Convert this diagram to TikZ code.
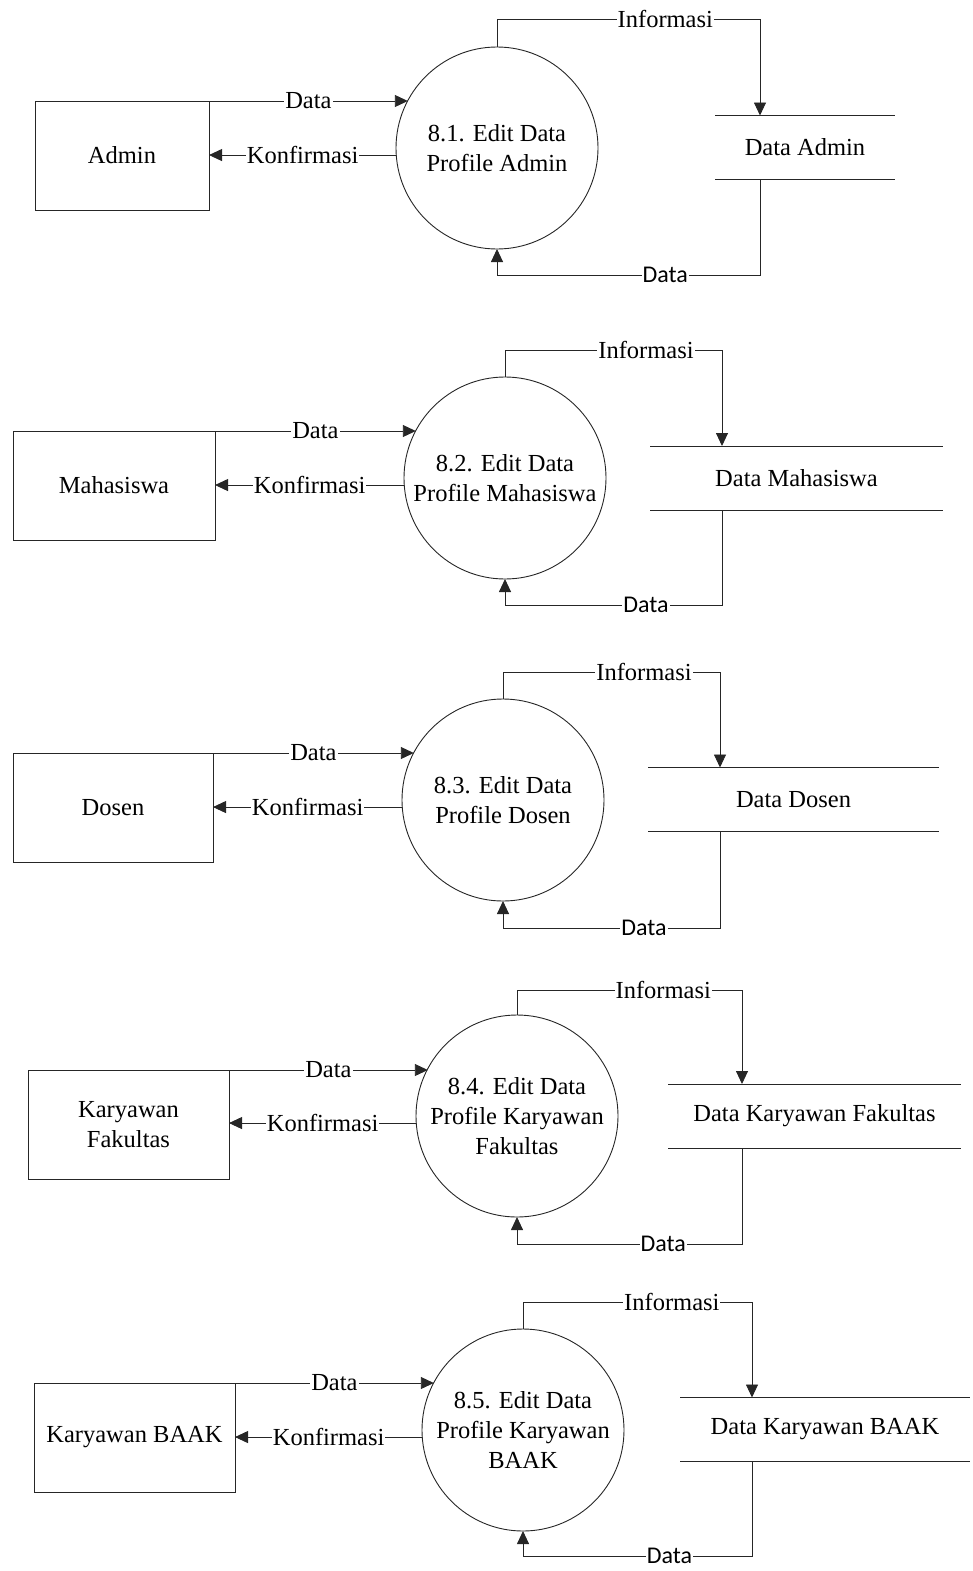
\documentclass[tikz,border=0pt]{standalone}
\usepackage{fontspec}
\setmainfont{Liberation Serif}
\newfontfamily\calibrifont{Carlito}
\usetikzlibrary{arrows.meta}
\begin{document}
\begin{tikzpicture}[x=1pt,y=-1pt,
  font=\fontsize{24.5}{30}\selectfont,
  line width=0.9pt, color=black!85, text=black,
  ent/.style={draw, rectangle, align=center, inner sep=0pt, outer sep=0pt, minimum height=109},
  proc/.style={draw, circle, align=center, inner sep=0pt, outer sep=0pt, minimum size=202},
  store/.style={draw=none, align=center, inner sep=0pt, outer sep=0pt, minimum height=64},
  flow/.style={-{Triangle[length=13pt,width=12pt]}},
  lbl/.style={fill=white, inner xsep=1pt, inner ysep=0pt},
  lbls/.style={lbl, font=\calibrifont\fontsize{24}{30}\selectfont}]
\useasboundingbox (0,0) rectangle (972,1571);

% ---------- 8.1 Admin ----------
\node[ent, minimum width=174] (e1) at (122,155.5) {Admin};
\node[proc] (p1) at (497,148) {8.1. Edit Data\\Profile Admin};
\node[store, minimum width=180] (s1) at (805,147.5) {Data Admin};
\draw (s1.north west) -- (s1.north east) (s1.south west) -- (s1.south east);
\draw[flow] (e1.north east) -- node[lbl]{Data} (e1.north east -| p1.152);
\draw[flow] (p1.184) -- node[lbl]{Konfirmasi} (p1.184 -| e1.east);
\coordinate (i1a) at (497,19); \coordinate (i1b) at (760,19);
\draw[flow] (p1.north) -- (i1a) -- node[lbl,pos=0.64]{Informasi} (i1b) -- (i1b |- s1.north);
\coordinate (d1a) at (760,275); \coordinate (d1b) at (497,275);
\draw[flow] (d1a |- s1.south) -- (d1a) -- node[lbls,pos=0.36]{Data} (d1b) -- (p1.south);

% ---------- 8.2 Mahasiswa ----------
\node[ent, minimum width=202] (e2) at (114,485.5) {Mahasiswa};
\node[proc] (p2) at (505,478) {8.2. Edit Data\\Profile Mahasiswa};
\node[store, minimum width=293] (s2) at (796.5,478) {Data Mahasiswa};
\draw (s2.north west) -- (s2.north east) (s2.south west) -- (s2.south east);
\draw[flow] (e2.north east) -- node[lbl]{Data} (e2.north east -| p2.152);
\draw[flow] (p2.184) -- node[lbl]{Konfirmasi} (p2.184 -| e2.east);
\coordinate (i2a) at (505,350); \coordinate (i2b) at (722,350);
\draw[flow] (p2.north) -- (i2a) -- node[lbl,pos=0.65]{Informasi} (i2b) -- (i2b |- s2.north);
\coordinate (d2a) at (722,605); \coordinate (d2b) at (505,605);
\draw[flow] (d2a |- s2.south) -- (d2a) -- node[lbls,pos=0.35]{Data} (d2b) -- (p2.south);

% ---------- 8.3 Dosen ----------
\node[ent, minimum width=200] (e3) at (113,807.5) {Dosen};
\node[proc] (p3) at (503,800) {8.3. Edit Data\\Profile Dosen};
\node[store, minimum width=291] (s3) at (793.5,799.5) {Data Dosen};
\draw (s3.north west) -- (s3.north east) (s3.south west) -- (s3.south east);
\draw[flow] (e3.north east) -- node[lbl]{Data} (e3.north east -| p3.152);
\draw[flow] (p3.184) -- node[lbl]{Konfirmasi} (p3.184 -| e3.east);
\coordinate (i3a) at (503,672); \coordinate (i3b) at (720,672);
\draw[flow] (p3.north) -- (i3a) -- node[lbl,pos=0.65]{Informasi} (i3b) -- (i3b |- s3.north);
\coordinate (d3a) at (720,928); \coordinate (d3b) at (503,928);
\draw[flow] (d3a |- s3.south) -- (d3a) -- node[lbls,pos=0.35]{Data} (d3b) -- (p3.south);

% ---------- 8.4 Karyawan Fakultas ----------
\node[ent, minimum width=201] (e4) at (128.5,1124.5) {Karyawan\\Fakultas};
\node[proc] (p4) at (517,1116) {8.4. Edit Data\\Profile Karyawan\\Fakultas};
\node[store, minimum width=293] (s4) at (814.5,1116) {Data Karyawan Fakultas};
\draw (s4.north west) -- (s4.north east) (s4.south west) -- (s4.south east);
\draw[flow] (e4.north east) -- node[lbl]{Data} (e4.north east -| p4.152);
\draw[flow] (p4.184) -- node[lbl]{Konfirmasi} (p4.184 -| e4.east);
\coordinate (i4a) at (517,990); \coordinate (i4b) at (742,990);
\draw[flow] (p4.north) -- (i4a) -- node[lbl,pos=0.65]{Informasi} (i4b) -- (i4b |- s4.north);
\coordinate (d4a) at (742,1244); \coordinate (d4b) at (517,1244);
\draw[flow] (d4a |- s4.south) -- (d4a) -- node[lbls,pos=0.35]{Data} (d4b) -- (p4.south);

% ---------- 8.5 Karyawan BAAK ----------
\node[ent, minimum width=201] (e5) at (134.5,1437.5) {Karyawan BAAK};
\node[proc] (p5) at (523,1430) {8.5. Edit Data\\Profile Karyawan\\BAAK};
\node[store, minimum width=290] (s5) at (825,1429.5) {Data Karyawan BAAK};
\draw (s5.north west) -- (s5.north east) (s5.south west) -- (s5.south east);
\draw[flow] (e5.north east) -- node[lbl]{Data} (e5.north east -| p5.152);
\draw[flow] (p5.184) -- node[lbl]{Konfirmasi} (p5.184 -| e5.east);
\coordinate (i5a) at (523,1302); \coordinate (i5b) at (752,1302);
\draw[flow] (p5.north) -- (i5a) -- node[lbl,pos=0.65]{Informasi} (i5b) -- (i5b |- s5.north);
\coordinate (d5a) at (752,1556); \coordinate (d5b) at (523,1556);
\draw[flow] (d5a |- s5.south) -- (d5a) -- node[lbls,pos=0.36]{Data} (d5b) -- (p5.south);
\end{tikzpicture}
\end{document}
